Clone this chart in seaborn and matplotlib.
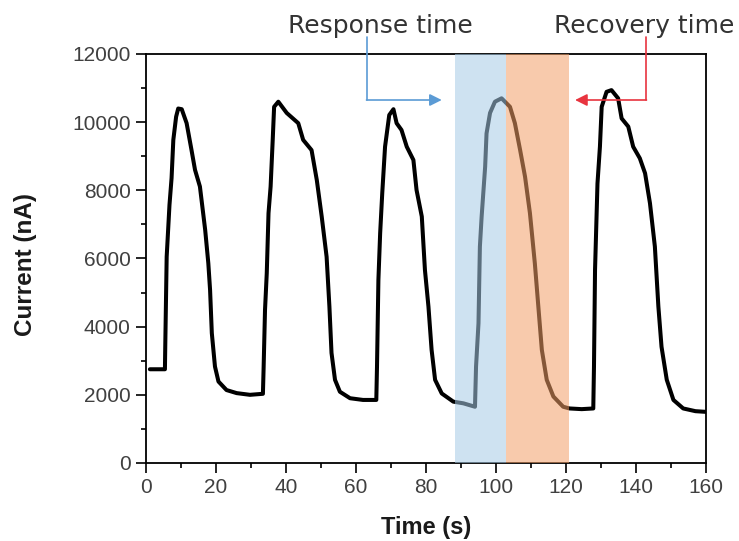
import matplotlib
matplotlib.use("Agg")
import matplotlib.pyplot as plt
from matplotlib.ticker import MultipleLocator
import seaborn as sns
import pandas as pd

# Sensor current trace (time in s, current in nA)
time_s = [
    1.1, 5.4, 5.5, 5.9, 6.7, 7.3, 7.8, 8.6, 9.2, 10.2, 11.6, 13.0, 14.0, 15.4,
    16.9, 17.8, 18.3, 18.8, 19.7, 20.7, 23.0, 25.9, 29.7, 33.4,
    33.6, 34.0, 34.5, 35.0, 35.6, 36.2, 36.6, 37.8, 40.2, 43.5, 44.9, 47.3,
    48.8, 50.2, 51.6, 52.4, 53.0, 54.0, 55.4, 58.3, 62.0, 65.8,
    66.0, 66.4, 66.9, 67.5, 68.3, 69.5, 70.7, 71.6, 73.0, 74.5, 76.4, 77.3,
    78.8, 79.7, 80.7, 81.6, 82.6, 84.5, 87.8, 90.7, 94.0,
    94.3, 95.0, 95.4, 95.9, 96.9, 97.3, 98.3, 99.7, 101.6, 104.0, 105.4,
    106.9, 108.3, 109.7, 111.1, 112.1, 113.1, 114.5, 116.4, 119.2, 121.0,
    124.5, 127.8,
    128.0, 128.3, 129.0, 129.7, 130.2, 131.6, 133.0, 134.9, 135.9, 137.8,
    139.2, 141.1, 142.6, 144.0, 145.4, 146.4, 147.3, 148.8, 150.7, 153.5,
    157.0, 160.0,
]
current_na = [
    2750, 2750, 3460, 6050, 7570, 8360, 9480, 10160, 10400, 10380, 9970, 9180,
    8600, 8110, 6840, 5860, 5080, 3810, 2830, 2390, 2140, 2050, 2000, 2030,
    2790, 4490, 5570, 7330, 8110, 9480, 10450, 10600, 10270, 9970, 9480, 9180,
    8300, 7230, 6050, 4590, 3230, 2440, 2090, 1900, 1850, 1850,
    2830, 5370, 6740, 7920, 9280, 10210, 10380, 9970, 9770, 9280, 8890, 8010,
    7230, 5660, 4590, 3320, 2440, 2040, 1800, 1750, 1650,
    2830, 4100, 6350, 7230, 8690, 9670, 10270, 10600, 10700, 10450, 9970,
    9180, 8400, 7330, 5860, 4590, 3320, 2440, 1950, 1650, 1600,
    1580, 1600,
    2830, 5660, 8200, 9280, 10450, 10890, 10940, 10700, 10110, 9870,
    9280, 8940, 8500, 7620, 6350, 4590, 3410, 2440, 1850, 1600,
    1520, 1500,
]

# Highlighted windows (s)
response_window = [88.3, 102.9]
recovery_window = [102.9, 120.9]

x_ticks = [0, 20, 40, 60, 80, 100, 120, 140, 160]
y_ticks = [0, 2000, 4000, 6000, 8000, 10000, 12000]

df = pd.DataFrame({"Time (s)": time_s, "Current (nA)": current_na})

sns.set_theme(style="ticks")
plt.rcParams["font.family"] = ["Liberation Sans", "DejaVu Sans"]

fig = plt.figure(figsize=(7.39, 5.41), dpi=100)
ax = fig.add_axes([0.1976, 0.1442, 0.7577, 0.756])

sns.lineplot(data=df, x="Time (s)", y="Current (nA)", sort=False,
             estimator=None, color="black", linewidth=2.9, ax=ax, zorder=2)
for line in ax.get_lines():
    line.set_solid_joinstyle("round")
    line.set_solid_capstyle("round")

# Shaded response / recovery windows laid over the trace
ax.axvspan(*response_window, color=(0.655, 0.796, 0.906), alpha=0.55,
           lw=0, zorder=3)
ax.axvspan(*recovery_window, color=(0.957, 0.627, 0.408), alpha=0.55,
           lw=0, zorder=3)

ax.set_xlim(0, 160)
ax.set_ylim(0, 12000)
ax.set_xticks(x_ticks)
ax.set_yticks(y_ticks)
ax.xaxis.set_minor_locator(MultipleLocator(10))
ax.yaxis.set_minor_locator(MultipleLocator(1000))

for side in ["top", "right", "bottom", "left"]:
    ax.spines[side].set_visible(True)
    ax.spines[side].set_color("black")
    ax.spines[side].set_linewidth(1.3)

ax.tick_params(which="major", direction="out", length=7, width=1.2,
               color="black", labelsize=15, labelcolor="#404040", pad=4,
               top=False, right=False)
ax.tick_params(which="minor", direction="out", length=3.5, width=1.2,
               color="black", top=False, right=False)

ax.set_xlabel("Time (s)", fontsize=17, fontweight="bold", color="#1a1a1a",
              va="center")
ax.set_ylabel("Current (nA)", fontsize=17.5, fontweight="bold",
              color="#1a1a1a", va="center")
ax.xaxis.set_label_coords(0.5, -0.157)
ax.yaxis.set_label_coords(-0.216, 0.485)

# Callout arrows pointing at the shaded windows
blue = "#5b9bd5"
red = "#e8343f"
lead_top, lead_y = 12510, 10650
ax.plot([63.0, 63.0], [lead_top, lead_y], color=blue, lw=1.2,
        clip_on=False, zorder=4)
ax.annotate("", xy=(84.5, lead_y), xytext=(63.0, lead_y),
            arrowprops=dict(arrowstyle="-|>", color=blue, lw=1.2,
                            mutation_scale=18, shrinkA=0, shrinkB=0),
            annotation_clip=False, zorder=4)
ax.plot([143.0, 143.0], [lead_top, lead_y], color=red, lw=1.2,
        clip_on=False, zorder=4)
ax.annotate("", xy=(122.6, lead_y), xytext=(143.0, lead_y),
            arrowprops=dict(arrowstyle="-|>", color=red, lw=1.2,
                            mutation_scale=18, shrinkA=0, shrinkB=0),
            annotation_clip=False, zorder=4)

fig.text(380 / 739, 1 - 33 / 541, "Response time", ha="center",
         va="baseline", fontsize=18, color="#333333", family="DejaVu Sans")
fig.text(644 / 739, 1 - 33 / 541, "Recovery time", ha="center",
         va="baseline", fontsize=18, color="#333333", family="DejaVu Sans")

fig.savefig("out.png", dpi=100)
